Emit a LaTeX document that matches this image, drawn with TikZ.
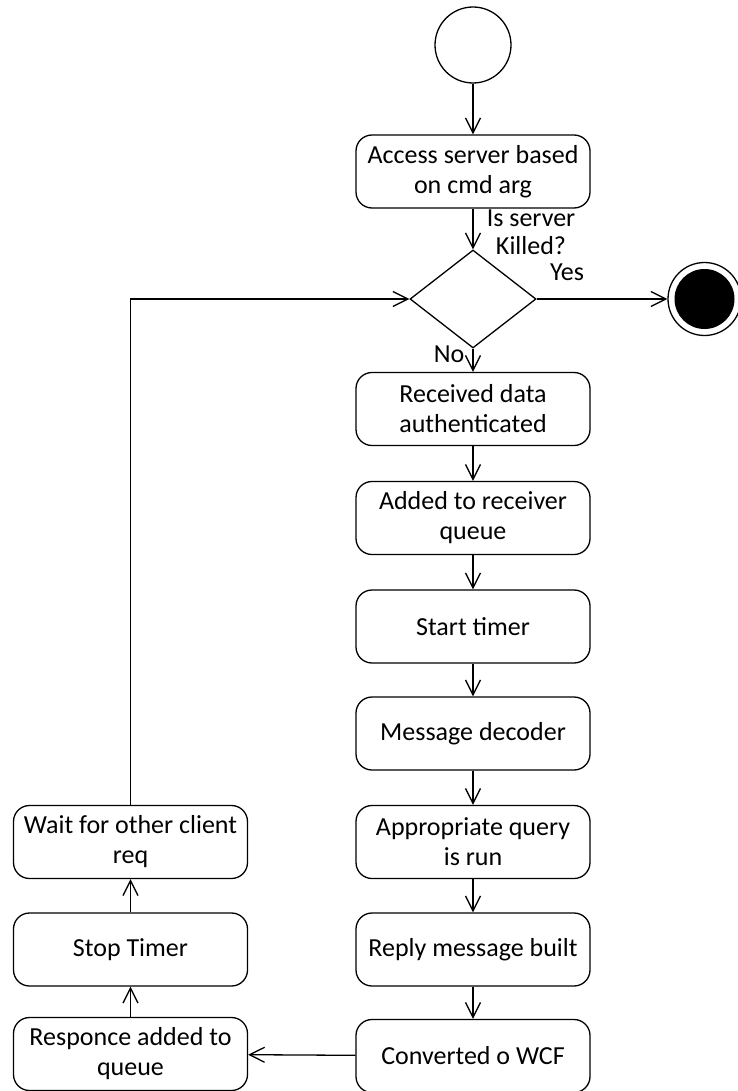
\documentclass[tikz,border=0pt]{standalone}
\usepackage{fontspec}
\setmainfont{Carlito}
\usetikzlibrary{shapes.geometric,arrows.meta}
\tikzset{
    activity-box/.style = {draw=black, fill=white, line width=0.65pt, rectangle, rounded corners=8pt, minimum width=117pt, minimum height=36.5pt, inner sep=2pt, align=center, font=\fontsize{13}{15}\selectfont},
    decision-box/.style = {draw=black, line width=0.65pt, diamond, minimum width=63pt, minimum height=49pt, inner sep=0pt},
    initial-state/.style = {draw=black, line width=0.65pt, circle, minimum size=38pt, inner sep=0pt},
    final-state/.style = {draw=black, line width=0.65pt, circle, minimum size=36.5pt, inner sep=0pt},
    final-dot/.style = {fill=black, circle, minimum size=30pt, inner sep=0pt},
    flow/.style = {line width=0.65pt, -{Straight Barb[length=7.5pt,width=7.5pt]}},
    flow-label/.style = {inner sep=0pt, align=center, font=\fontsize{13}{14}\selectfont},
}

\begin{document}
\begin{tikzpicture}[x=0.5pt, y=-0.5pt]
\useasboundingbox (0,0) rectangle (738,1091);
% start, decision and end
\node[initial-state] (initial) at (473,45) {};
\node[activity-box] (access) at (473,171.5) {Access server based\\on cmd arg};
\node[decision-box] (killed) at (473,299) {};
\node[final-state] (final) at (704.5,299) {};
\node[final-dot] (final-fill) at (final) {};
\node[flow-label] (killed-text) at (531,232) {Is server\\Killed?};
\node[flow-label] (yes) at (567,272) {Yes};
\node[flow-label] (no) at (449,354) {No};

% right column
\node[activity-box] (received) at (473,409) {Received data\\authenticated};
\node[activity-box] (added) at (473,518) {Added to receiver\\queue};
\node[activity-box] (timer) at (473,626.5) {Start timer};
\node[activity-box] (decoder) at (473,733.5) {Message decoder};
\node[activity-box] (query) at (473,842) {Appropriate query\\is run};
\node[activity-box] (reply) at (473,949.5) {Reply message built};
\node[activity-box] (converted) at (473,1056) {Converted o WCF};

% left column
\node[activity-box] (wait) at (130.5,842) {Wait for other client\\req};
\node[activity-box] (stop-timer) at (130.5,949.5) {Stop Timer};
\node[activity-box] (responce) at (130.5,1054) {Responce added to\\queue};

\draw[flow] (initial) -- (access);
\draw[flow] (access) -- (killed);
\draw[flow] (killed) -- (final);
\draw[flow] (killed) -- (received);
\foreach \a/\b in {received/added, added/timer, timer/decoder, decoder/query, query/reply, reply/converted}
    \draw[flow] (\a) -- (\b);
\draw[flow] (converted) -- (responce);
\draw[flow] (responce) -- (stop-timer);
\draw[flow] (stop-timer) -- (wait);
\draw[flow] (wait) |- (killed);
\end{tikzpicture}
\end{document}
